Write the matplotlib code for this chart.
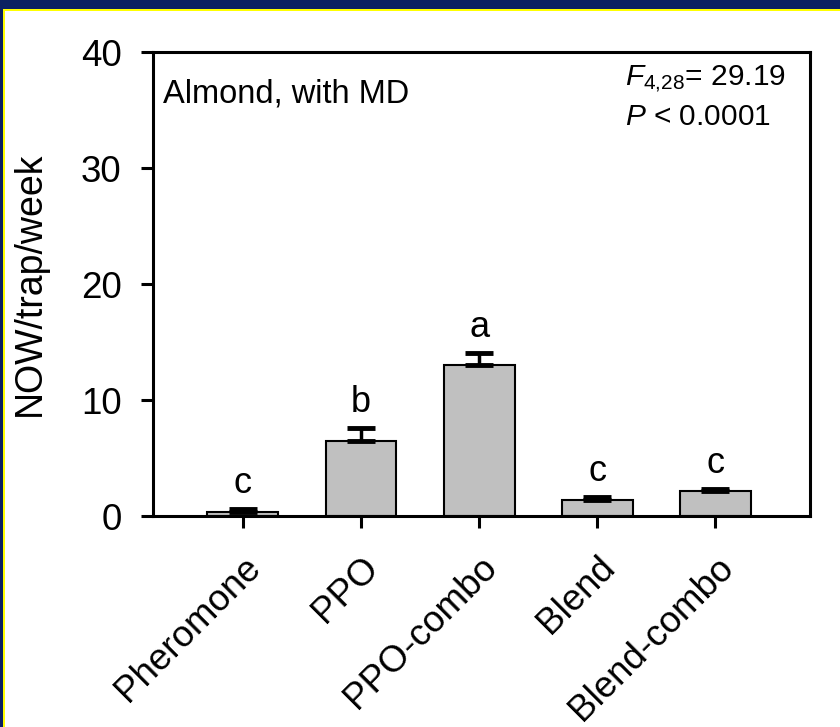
import matplotlib
matplotlib.use("Agg")
import matplotlib.pyplot as plt
from matplotlib.patches import Rectangle

plt.rcParams['font.family'] = ['Liberation Sans', 'DejaVu Sans']
plt.rcParams['mathtext.fontset'] = 'custom'
plt.rcParams['mathtext.rm'] = 'Liberation Sans'
plt.rcParams['mathtext.it'] = 'Liberation Sans:italic'

categories = ["Pheromone", "PPO", "PPO-combo", "Blend", "Blend-combo"]
means = [0.35, 6.5, 13.0, 1.38, 2.15]
sem = [0.25, 1.1, 1.05, 0.28, 0.2]
letters = ["c", "b", "a", "c", "c"]
yticks = [0, 10, 20, 30, 40]

W, H = 840, 727
fig = plt.figure(figsize=(W / 100, H / 100), dpi=100, facecolor='white')

navy = '#0B2161'
yellow = '#FFFF00'
# frame: navy band on top and left, thin yellow line inside
fig.patches.append(Rectangle((0, 1 - 9 / H), 1, 9 / H, transform=fig.transFigure,
                             facecolor=navy, edgecolor='none', zorder=0))
fig.patches.append(Rectangle((0, 1 - 11 / H), 1, 2 / H, transform=fig.transFigure,
                             facecolor=yellow, edgecolor='none', zorder=0))
fig.patches.append(Rectangle((0, 0), 3 / W, 1 - 9 / H, transform=fig.transFigure,
                             facecolor=navy, edgecolor='none', zorder=0))
fig.patches.append(Rectangle((3 / W, 0), 2 / W, 1 - 11 / H, transform=fig.transFigure,
                             facecolor=yellow, edgecolor='none', zorder=0))

ax = fig.add_axes([153 / W, 211 / H, 657 / W, 464 / H])
ax.set_facecolor('white')

x = list(range(len(categories)))
ax.bar(x, means, width=0.6, color='#C0C0C0', edgecolor='black', linewidth=1.5, zorder=2)
ax.errorbar(x, means, yerr=[[0] * len(sem), sem], fmt='none', ecolor='black',
            elinewidth=2.5, capsize=10, capthick=3.5, zorder=3)

for xi, m, s, l in zip(x, means, sem, letters):
    ax.text(xi, m + s + 1.35, l, ha='center', va='baseline', fontsize=26)

ax.set_xlim(-0.76, 4.8)
ax.set_ylim(0, 40)
ax.set_yticks(yticks)
ax.set_yticklabels([str(v) for v in yticks])
ax.set_xticks(x)
ax.set_xticklabels(categories, rotation=45, ha='right', rotation_mode='anchor')
ax.tick_params(axis='both', direction='out', length=8.5, width=2.2, labelsize=26.5,
               top=False, right=False)
ax.tick_params(axis='y', pad=14)
ax.tick_params(axis='x', pad=16)
for sp in ax.spines.values():
    sp.set_linewidth(2.2)

ax.set_ylabel("NOW/trap/week", fontsize=27)
ax.yaxis.set_label_coords(-0.16, 0.5)

ax.text(0.015, 0.91, "Almond, with MD", transform=ax.transAxes, fontsize=23.5,
        ha='left', va='center')
ax.text(0.718, 0.94, r"$\mathit{F}_{4{,}28}$= 29.19", transform=ax.transAxes, fontsize=21.5,
        ha='left', va='center')
ax.text(0.718, 0.86, r"$\mathit{P}$ < 0.0001", transform=ax.transAxes, fontsize=21.5,
        ha='left', va='center')

fig.savefig("out.png", dpi=100, facecolor='white')
